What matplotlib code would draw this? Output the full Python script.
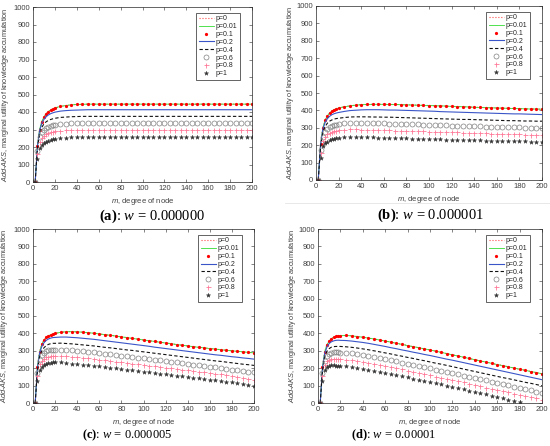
import numpy as np
import matplotlib
matplotlib.use("Agg")
import matplotlib.pyplot as plt
from matplotlib.lines import Line2D

plt.rcParams['font.family'] = ['Liberation Sans', 'DejaVu Sans']
plt.rcParams['mathtext.fontset'] = 'custom'
plt.rcParams['mathtext.rm'] = 'Liberation Serif'
plt.rcParams['mathtext.it'] = 'Liberation Serif:italic'
plt.rcParams['mathtext.bf'] = 'Liberation Serif:bold'
plt.rcParams['mathtext.sf'] = 'Liberation Sans:italic'

# ---------------- data ----------------
M = [2, 4, 6, 8, 10, 12, 14, 16, 18,
     20, 25, 30, 35, 40, 45, 50, 55, 60, 65, 70, 75, 80, 85, 90, 95,
     100, 105, 110, 115, 120, 125, 130, 135, 140, 145, 150, 155, 160, 165, 170, 175, 180, 185, 190, 195, 200]

LABELS = ['p=0', 'p=0.01', 'p=0.1', 'p=0.2', 'p=0.4', 'p=0.6', 'p=0.8', 'p=1']
CAPTION_LETTERS = ['(a)', '(b)', '(c)', '(d)']
CAPTION_VALUES = ['0.000000', '0.000001', '0.000005', '0.00001']
X_TICKS = [0, 20, 40, 60, 80, 100, 120, 140, 160, 180, 200]
Y_TICKS = [0, 100, 200, 300, 400, 500, 600, 700, 800, 900, 1000]

# panel (a): w = 0.000000  (p=0, 0.01 and 0.1 coincide -> A_top)
A_top = [0, 205, 300, 345, 372, 390, 402, 411, 418,
         423, 432, 437, 441, 443, 444, 445, 445, 445, 445, 445, 445, 445, 445, 445, 445,
         445, 445, 445, 445, 445, 445, 445, 445, 445, 445, 445, 445, 445, 445, 445, 445, 445, 445, 445, 445, 445]
A_p02 = [0, 200, 292, 335, 358, 373, 383, 390, 395,
         399, 405, 408, 410, 411, 412, 413, 413, 413, 413, 413, 413, 413, 413, 413, 413,
         413, 413, 413, 413, 413, 413, 413, 413, 413, 413, 413, 413, 413, 413, 413, 413, 413, 413, 413, 413, 413]
A_p04 = [0, 190, 275, 312, 332, 344, 352, 357, 361,
         364, 369, 371, 373, 374, 375, 375, 375, 375, 375, 375, 375, 375, 375, 375, 375,
         375, 375, 375, 375, 375, 375, 375, 375, 375, 375, 375, 375, 375, 375, 375, 375, 375, 375, 375, 375, 375]
A_p06 = [0, 175, 255, 283, 298, 307, 314, 319, 323,
         326, 331, 334, 336, 337, 338, 338, 338, 338, 338, 338, 338, 338, 338, 338, 338,
         338, 338, 338, 338, 338, 338, 338, 338, 338, 338, 338, 338, 338, 338, 338, 338, 338, 338, 338, 338, 338]
A_p08 = [0, 160, 230, 253, 264, 272, 278, 283, 286,
         289, 293, 296, 297, 298, 298, 298, 298, 298, 298, 298, 298, 298, 298, 298, 298,
         298, 298, 298, 298, 298, 298, 298, 298, 298, 298, 298, 298, 298, 298, 298, 298, 298, 298, 298, 298, 298]
A_p1 = [0, 130, 195, 213, 223, 230, 236, 240, 244,
        247, 251, 254, 256, 257, 257, 257, 257, 257, 257, 257, 257, 257, 257, 257, 257,
        257, 257, 257, 257, 257, 257, 257, 257, 257, 257, 257, 257, 257, 257, 257, 257, 257, 257, 257, 257, 257]

# panel (b): w = 0.000001
B_top = [0, 205, 298, 342, 368, 385, 396, 404, 410,
         414, 421, 426, 430, 433, 434, 435, 435, 435, 434, 434, 433, 432, 431, 430, 429,
         428, 427, 426, 425, 423, 422, 421, 420, 418, 417, 416, 415, 414, 413, 412, 411, 410, 409, 408, 408, 407]
B_p02 = [0, 200, 290, 330, 352, 366, 375, 381, 385,
         388, 394, 399, 401, 403, 404, 404, 404, 403, 402, 402, 401, 400, 399, 398, 397,
         396, 395, 393, 392, 391, 390, 389, 388, 387, 386, 385, 384, 383, 382, 381, 380, 380, 379, 378, 377, 376]
B_p04 = [0, 188, 272, 307, 326, 338, 345, 350, 353,
         355, 359, 362, 363, 363, 363, 362, 362, 361, 361, 360, 359, 358, 357, 356, 355,
         354, 353, 352, 351, 350, 349, 348, 348, 347, 346, 345, 344, 343, 342, 341, 341, 340, 339, 339, 338, 338]
B_p06 = [0, 172, 250, 278, 292, 302, 309, 314, 318,
         321, 326, 328, 329, 328, 328, 327, 326, 325, 324, 323, 322, 321, 320, 319, 318,
         317, 316, 315, 314, 313, 312, 311, 310, 309, 308, 307, 306, 305, 304, 303, 302, 302, 301, 300, 300, 299]
B_p08 = [0, 158, 227, 250, 262, 270, 276, 280, 283,
         286, 289, 291, 291, 290, 289, 288, 287, 286, 285, 284, 283, 282, 281, 280, 279,
         278, 277, 276, 275, 274, 273, 272, 271, 270, 269, 268, 267, 266, 265, 264, 263, 262, 261, 261, 260, 259]
B_p1 = [0, 128, 193, 211, 221, 228, 234, 238, 241,
        244, 247, 248, 247, 246, 245, 245, 244, 243, 242, 241, 240, 239, 238, 237, 236,
        235, 234, 233, 232, 232, 231, 230, 229, 229, 228, 227, 226, 226, 225, 224, 223, 223, 222, 221, 221, 220]

# panel (c): w = 0.000005
C_top = [0, 205, 295, 338, 362, 377, 386, 392, 397,
         400, 406, 410, 410, 409, 407, 404, 401, 397, 393, 389, 385, 380, 376, 371, 367,
         362, 358, 354, 349, 345, 341, 336, 332, 328, 324, 320, 317, 313, 310, 306, 303, 300, 297, 294, 291, 288]
C_p02 = [0, 200, 287, 325, 347, 360, 368, 373, 376,
         377, 379, 379, 377, 375, 372, 369, 366, 362, 358, 354, 350, 346, 342, 338, 334,
         330, 326, 321, 317, 313, 309, 305, 301, 297, 293, 289, 285, 281, 277, 274, 270, 266, 263, 259, 256, 252]
C_p04 = [0, 188, 268, 300, 318, 330, 337, 341, 343,
         343, 344, 342, 340, 337, 334, 331, 328, 324, 320, 317, 313, 309, 305, 302, 298,
         294, 290, 286, 282, 278, 274, 270, 266, 262, 258, 254, 250, 246, 242, 239, 235, 231, 227, 223, 220, 216]
C_p06 = [0, 172, 245, 273, 288, 297, 302, 305, 306,
         307, 307, 305, 303, 300, 297, 294, 291, 287, 283, 280, 276, 272, 268, 265, 261,
         257, 253, 249, 245, 241, 237, 233, 229, 225, 221, 217, 213, 209, 205, 201, 197, 192, 188, 184, 180, 176]
C_p08 = [0, 158, 222, 244, 255, 262, 266, 268, 270,
         270, 270, 268, 265, 262, 259, 256, 253, 249, 245, 242, 238, 234, 230, 227, 223,
         219, 215, 211, 207, 203, 199, 196, 192, 188, 184, 180, 177, 173, 168, 164, 159, 154, 149, 145, 140, 135]
C_p1 = [0, 128, 190, 207, 217, 224, 229, 232, 234,
        234, 233, 230, 227, 224, 221, 217, 214, 210, 207, 203, 200, 196, 192, 188, 184,
        180, 176, 172, 169, 165, 161, 157, 154, 150, 146, 142, 138, 135, 131, 127, 123, 119, 114, 109, 104, 98]

# panel (d): w = 0.00001
D_top = [0, 205, 295, 335, 357, 370, 378, 383, 386,
         387, 388, 386, 382, 378, 373, 368, 362, 356, 350, 343, 337, 330, 324, 318, 311,
         305, 298, 291, 284, 277, 270, 263, 256, 249, 242, 235, 228, 221, 215, 208, 201, 194, 188, 181, 175, 168]
D_p02 = [0, 200, 285, 322, 342, 352, 357, 360, 361,
         360, 359, 356, 352, 348, 343, 337, 331, 325, 318, 312, 305, 299, 292, 286, 279,
         273, 266, 259, 252, 246, 239, 232, 225, 218, 211, 204, 197, 190, 183, 176, 169, 162, 155, 148, 141, 134]
D_p04 = [0, 188, 265, 297, 313, 321, 324, 325, 325,
         325, 323, 320, 316, 311, 306, 300, 294, 288, 282, 275, 269, 262, 256, 249, 243,
         236, 229, 223, 216, 209, 202, 195, 188, 181, 174, 167, 160, 153, 146, 140, 133, 126, 119, 113, 106, 99]
D_p06 = [0, 172, 242, 270, 283, 289, 291, 291, 291,
         290, 288, 285, 280, 275, 270, 264, 258, 252, 245, 239, 232, 226, 219, 212, 206,
         199, 192, 185, 179, 172, 165, 158, 151, 144, 137, 130, 123, 115, 108, 101, 94, 86, 79, 72, 65, 58]
D_p08 = [0, 158, 220, 240, 248, 252, 252, 252, 252,
         251, 248, 245, 240, 235, 230, 224, 218, 212, 206, 199, 193, 186, 179, 173, 166,
         159, 152, 145, 139, 132, 125, 118, 111, 104, 97, 89, 82, 75, 68, 61, 54, 47, 40, 33, 26, 19]
D_p1 = [0, 128, 188, 205, 213, 216, 216, 215, 214,
        213, 210, 206, 201, 196, 191, 185, 179, 173, 166, 160, 153, 147, 140, 134, 127,
        121, 114, 107, 100, 93, 86, 79, 71, 64, 56, 49, 41, 34, 26, 19, 11, 3, None, None, None, None]

PANELS = [
    [A_top, A_top, A_top, A_p02, A_p04, A_p06, A_p08, A_p1],
    [B_top, B_top, B_top, B_p02, B_p04, B_p06, B_p08, B_p1],
    [C_top, C_top, C_top, C_p02, C_p04, C_p06, C_p08, C_p1],
    [D_top, D_top, D_top, D_p02, D_p04, D_p06, D_p08, D_p1],
]
for panel in PANELS:
    for s in panel:
        assert len(s) == len(M), len(s)

# ---------------- styles ----------------
STYLES = [
    dict(color='#ff4d4d', ls=':', lw=0.8),
    dict(color='#33dd33', ls='-', lw=0.6),
    dict(color='#ff0000', ls='none', marker='.', ms=2.6),
    dict(color='#3a55c8', ls='-', lw=0.8),
    dict(color='#111111', ls='--', lw=0.8, dashes=(3, 2)),
    dict(color='#808080', ls='none', marker='o', ms=3.6, mfc='none', mew=0.5),
    dict(color='#ff7a99', ls='none', marker='+', ms=3.6, mew=0.6),
    dict(color='#333333', ls='none', marker='*', ms=3.2, mew=0.3),
]

W, H = 550, 446
fig = plt.figure(figsize=(W / 100, H / 100), dpi=100)

# axes boxes in pixels: left, right, top, bottom
BOXES = [(33, 252, 7, 182), (316, 542, 6, 180), (33, 254, 229, 403), (318, 542, 229, 403)]
YLAB_X = [-0.10, -0.088, -0.105, -0.09]
CAP_POS = [(152, 216), (430, 215), (127, 435), (394, 435)]
CAP_SIZE = [10.5, 10.5, 9, 9]

for k in range(4):
    l, r, t, b = BOXES[k]
    ax = fig.add_axes([l / W, 1 - b / H, (r - l) / W, (b - t) / H])
    x = np.array(M, dtype=float)
    for s, st, lab in zip(PANELS[k], STYLES, LABELS):
        y = np.array([np.nan if v is None else v for v in s], dtype=float)
        ax.plot(x, y, label=lab, **st)
    ax.set_xlim(0, 200)
    ax.set_ylim(0, 1000)
    ax.set_xticks(X_TICKS)
    ax.set_yticks(Y_TICKS)
    ax.tick_params(direction='in', length=2, width=0.4, labelsize=5.5, pad=2,
                   top=True, right=True, colors='#262626', labelcolor='#404040')
    for sp in ax.spines.values():
        sp.set_linewidth(0.5)
        sp.set_color('#262626')
    ax.set_xlabel(r'$\mathsf{m}$, degree of node', fontsize=5.5, color='#404040')
    ax.set_ylabel(r'$\mathsf{Add}$-$\mathsf{AKS}$, marginal utility of knowledge accumulation',
                  fontsize=5.3, color='#404040')
    ax.xaxis.set_label_coords(0.5, -0.08)
    ax.yaxis.set_label_coords(YLAB_X[k], 0.5)
    w_px = r - l
    h_px = b - t
    leg = ax.legend(loc='upper right', bbox_to_anchor=(1 - 12 / w_px, 1 - 6 / h_px),
                    borderaxespad=0, fontsize=5, handlelength=2.2, handletextpad=0.3,
                    labelspacing=0.12, borderpad=0.35, numpoints=1, fancybox=False,
                    framealpha=1, edgecolor='#262626')
    leg.get_frame().set_linewidth(0.5)
    for txt in leg.get_texts():
        txt.set_color('#262626')

    # caption below the panel
    cx, cy = CAP_POS[k]
    cap = r'$\mathbf{' + CAPTION_LETTERS[k] + r'}$: $\mathit{w}$ = ' + CAPTION_VALUES[k]
    fig.text(cx / W, 1 - cy / H, cap, family='Liberation Serif', fontsize=CAP_SIZE[k],
             ha='center', va='center', color='black')

# faint separator under panel (b)
fig.add_artist(Line2D([285 / W, 1.0], [1 - 203 / H, 1 - 203 / H], color='#e4e4e4', lw=0.6))

fig.savefig('out.png', dpi=100, facecolor='white')
